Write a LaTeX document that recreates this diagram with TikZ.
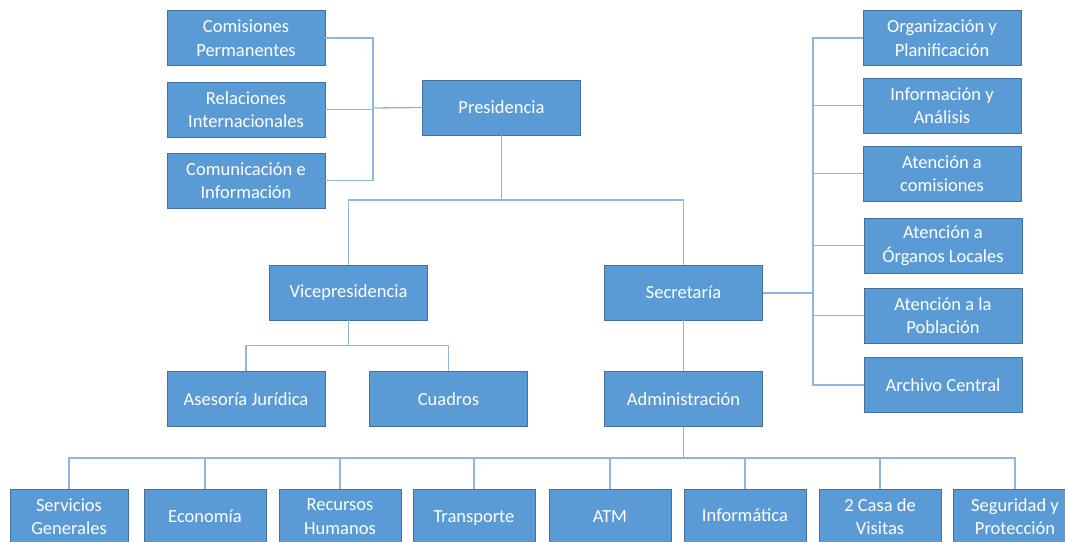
\documentclass[tikz,border=0pt]{standalone}
\usepackage{fontspec}
\setmainfont{Carlito}
\definecolor{boxfill}{HTML}{5B9BD5}
\definecolor{boxline}{HTML}{41719C}
\definecolor{connc}{HTML}{8FB6DC}
\begin{document}
\begin{tikzpicture}[x=1pt,y=-1pt,
  box/.style={draw=boxline,fill=boxfill,line width=0.9pt,text=white,
    minimum width=158pt,minimum height=55pt,inner sep=0pt,align=center,
    font=\fontsize{18.5}{23.5}\selectfont},
  sbox/.style={box,minimum width=122pt},
  conn/.style={draw=connc,line width=1.3pt}]
\useasboundingbox[fill=white] (0,0) rectangle (1065,541);
\begin{scope}
\clip (0,0) rectangle (1065,541);
% top-left
\node[box] (com) at (246,38) {Comisiones\\Permanentes};
\node[box] (rel) at (246,109.5) {Relaciones\\Internacionales};
\node[box] (comu) at (246,180.5) {Comunicación e\\Información};
\node[box] (pres) at (501.5,107.5) {Presidencia};
% middle
\node[box] (vice) at (348.5,292.5) {Vicepresidencia};
\node[box] (sec) at (683.5,292.5) {Secretaría};
\node[box] (ases) at (246,399) {Asesoría Jurídica};
\node[box] (cuad) at (448.5,399) {Cuadros};
\node[box] (adm) at (683.5,399) {Administración};
% right column
\node[box] (org) at (942,38) {Organización y\\Planificación};
\node[box] (inf) at (942,105.5) {Información y\\Análisis};
\node[box] (atc) at (942,173.5) {Atención a\\comisiones};
\node[box] (ato) at (943,245.5) {Atención a\\Órganos Locales};
\node[box] (atp) at (943,315.5) {Atención a la\\Población};
\node[box] (arc) at (943,385) {Archivo Central};
% bottom row
\node[sbox,minimum width=118pt] (ser) at (69,516.5) {Servicios\\Generales};
\node[sbox] (eco) at (205,516.5) {Economía};
\node[sbox] (rec) at (340,516.5) {Recursos\\Humanos};
\node[sbox] (tra) at (474,516.5) {Transporte\vphantom{Í}};
\node[sbox] (atm) at (610,516.5) {ATM\vphantom{Ípg}};
\node[sbox] (infm) at (745,516.5) {Informática\vphantom{pg}};
\node[sbox] (cas) at (880,516.5) {2 Casa de\\Visitas};
\node[sbox,minimum width=124pt] (seg) at (1015,516.5) {Seguridad y\\Protección};
\end{scope}
% connectors
\coordinate (jL) at (373,108);
\draw[conn] (com.east) -| (jL);
\draw[conn] (comu.east) -| (jL);
\draw[conn] (rel.east) -- (rel.east -| jL);
\draw[conn] (jL) -- (pres.west);
\coordinate (jP) at (501.5,200);
\draw[conn] (pres.south) -- (jP);
\draw[conn] (vice.north) |- (jP);
\draw[conn] (sec.north) |- (jP);
\draw[conn] (vice.south) -- ++(0,25) coordinate (jV);
\draw[conn] (ases.north) |- (jV);
\draw[conn] (cuad.north) |- (jV);
\draw[conn] (sec.south) -- (adm.north);
\coordinate (jS) at (813,292.5);
\draw[conn,line width=2pt] (sec.east) -- (jS);
\foreach \r in {org,inf,atc,ato,atp,arc} \draw[conn] (\r.west) -| (jS);
\coordinate (jA) at (683.5,458);
\draw[conn] (adm.south) -- (jA);
\foreach \b in {ser,eco,rec,tra,atm,infm,cas,seg} \draw[conn] (\b.north) |- (jA);
\end{tikzpicture}
\end{document}
